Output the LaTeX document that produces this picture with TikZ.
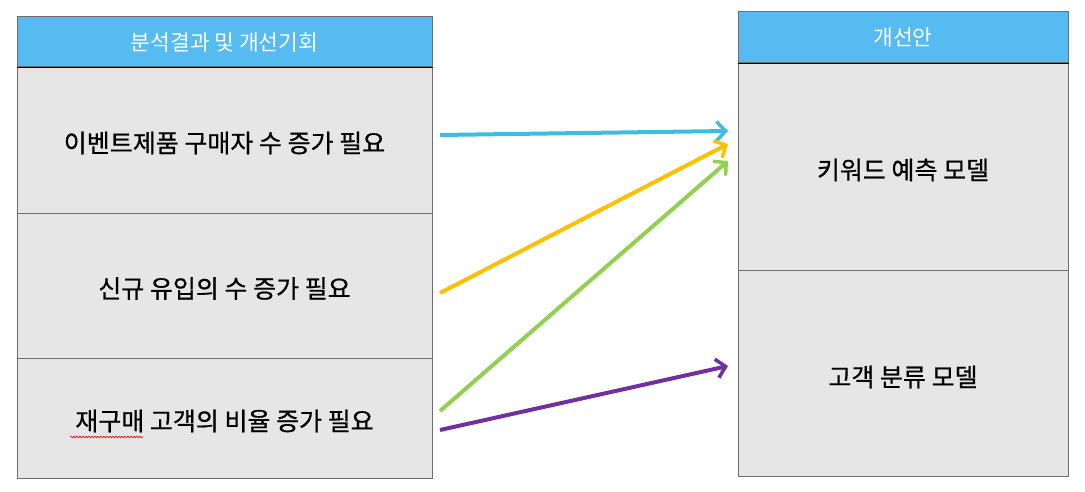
\documentclass[tikz,border=0pt]{standalone}
\usepackage{fontspec}
\setmainfont{Noto Sans CJK KR}
\newfontfamily\bodyfont{Noto Sans CJK KR}[FakeBold=0.6]
\usetikzlibrary{arrows.meta,decorations.pathmorphing}
\definecolor{hdr}{HTML}{56BBF1}
\definecolor{cellgray}{HTML}{E6E6E6}
\definecolor{edge}{HTML}{6E6E6E}
\definecolor{ablue}{HTML}{3DBDE0}
\definecolor{ayellow}{HTML}{FFC000}
\definecolor{agreen}{HTML}{92D050}
\definecolor{apurple}{HTML}{7030A0}
\tikzset{
  hdrbox/.style={draw=edge, line width=1pt, fill=hdr, text=white, font=\fontsize{21.5}{24}\selectfont, inner sep=0pt},
  cellbox/.style={draw=edge, line width=1pt, fill=cellgray, inner sep=0pt},
  celltext/.style={text=black, font=\bodyfont\fontsize{25}{30}\selectfont, inner sep=0pt},
  link/.style={line width=4pt, -{Straight Barb[length=9pt,width=19pt,line width=3.5pt]}}
}
\begin{document}
\begin{tikzpicture}[x=1pt,y=-1pt]
\useasboundingbox (0,0) rectangle (1085,492);
% left column
\node[hdrbox, minimum width=415pt, minimum height=50pt] (lh) at (224.5,42) {분석결과 및 개선기회};
\node[cellbox, minimum width=415pt, minimum height=146pt] (l1) at (224.5,140) {};
\node[cellbox, minimum width=415pt, minimum height=145pt] (l2) at (224.5,285.5) {};
\node[cellbox, minimum width=415pt, minimum height=120pt] (l3) at (224.5,418) {};
\node[celltext] (t1) at ([yshift=-3pt]l1.center) {이벤트제품 구매자 수 증가 필요};
\node[celltext] (t2) at ([yshift=-3pt]l2.center) {신규 유입의 수 증가 필요};
\node[celltext] (t3) at ([yshift=-3pt]l3.center) {재구매 고객의 비율 증가 필요};
\draw[black, line width=1pt] (lh.south west) -- (lh.south east);
% right column
\node[hdrbox, minimum width=330pt, minimum height=51pt] (rh) at (903,37.5) {개선안};
\node[cellbox, minimum width=330pt, minimum height=207pt] (r1) at (903,166.5) {};
\node[cellbox, minimum width=330pt, minimum height=206pt] (r2) at (903,373) {};
\node[celltext] (u1) at ([yshift=-3.5pt]r1.center) {키워드 예측 모델};
\node[celltext] (u2) at ([yshift=-4pt]r2.center) {고객 분류 모델};
\draw[black, line width=1pt] (rh.south west) -- (rh.south east);
% spell-check squiggle
\coordinate (sq1) at (70,437);
\coordinate (sq2) at (143,437);
\draw[red, line width=0.6pt, decorate, decoration={snake, amplitude=0.9pt, segment length=3pt}] (sq1) -- (sq2);
% arrow end points
\coordinate (s1) at (440,135);
\coordinate (e1) at (728,131);
\coordinate (s2) at (440,293);
\coordinate (e2) at (728,144);
\coordinate (s3) at (440,411);
\coordinate (e3) at (728,161);
\coordinate (s4) at (440,430);
\coordinate (e4) at (728,366);
\draw[link, ablue] (s1) -- (e1);
\draw[link, ayellow] (s2) -- (e2);
\draw[link, agreen] (s3) -- (e3);
\draw[link, apurple] (s4) -- (e4);
\end{tikzpicture}
\end{document}
